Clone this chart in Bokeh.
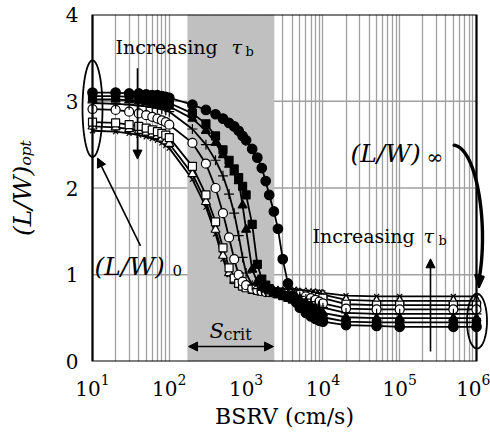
import numpy as np
from math import pi
from bokeh.plotting import figure
from bokeh.models import (Range1d, FixedTicker, LogTickFormatter, Label, Arrow,
                          NormalHead, PolyAnnotation, BoxAnnotation)
from bokeh.embed import file_html
from bokeh.resources import INLINE

FONT = "DejaVu Serif"

# back-surface recombination velocity (cm/s)
bsrv = [10, 20, 30, 40, 50, 60, 70, 80, 90, 100,
        200, 300, 400, 500, 600, 700, 800, 900,
        1000, 1200, 1400, 1600, 1800, 2000, 2300, 2600, 3000, 3500, 4000, 4500,
        5000, 6000, 7000, 8000, 9000, 10000,
        20000, 50000, 100000, 500000, 1000000]

# optimum L/W for increasing bulk lifetime (one list per lifetime)
lw_filled_circle = [3.10, 3.10, 3.09, 3.09, 3.08, 3.07, 3.07, 3.06, 3.05, 3.04,
                    2.96, 2.90, 2.85, 2.80, 2.75, 2.71, 2.66, 2.60,
                    2.55, 2.45, 2.35, 2.23, 2.08, 1.92, 1.73, 1.53, 1.18, 0.90, 0.76, 0.68,
                    0.62, 0.56, 0.52, 0.49, 0.47, 0.46,
                    0.42, 0.41, 0.40, 0.40, 0.40]
lw_filled_square = [3.06, 3.06, 3.05, 3.04, 3.03, 3.02, 3.01, 3.00, 2.99, 2.98,
                    2.86, 2.74, 2.60, 2.44, 2.32, 2.22, 2.12, 2.02,
                    1.92, 1.58, 1.12, 0.95, 0.88, 0.84, 0.80, 0.78, 0.76, 0.74, 0.72, 0.70,
                    0.67, 0.62, 0.58, 0.55, 0.53, 0.51,
                    0.46, 0.45, 0.45, 0.45, 0.45]
lw_filled_triangle = [3.02, 3.02, 3.01, 3.00, 2.99, 2.98, 2.97, 2.96, 2.95, 2.94,
                      2.80, 2.66, 2.52, 2.38, 2.27, 2.18, 2.08, 1.80,
                      1.52, 1.06, 0.92, 0.86, 0.83, 0.81, 0.79, 0.78, 0.77, 0.76, 0.75, 0.74,
                      0.72, 0.68, 0.64, 0.61, 0.58, 0.56,
                      0.51, 0.50, 0.50, 0.50, 0.50]
lw_plus = [2.98, 2.97, 2.96, 2.95, 2.94, 2.93, 2.92, 2.91, 2.90, 2.88,
           2.68, 2.50, 2.32, 2.14, 1.93, 1.71, 1.45, 1.20,
           1.02, 0.88, 0.84, 0.82, 0.81, 0.80, 0.79, 0.79, 0.78, 0.78, 0.77, 0.76,
           0.75, 0.72, 0.69, 0.66, 0.64, 0.62,
           0.56, 0.55, 0.55, 0.55, 0.55]
lw_open_circle = [2.91, 2.90, 2.88, 2.86, 2.84, 2.82, 2.80, 2.78, 2.76, 2.73,
                  2.52, 2.28, 2.00, 1.71, 1.43, 1.18, 1.00, 0.92,
                  0.88, 0.84, 0.82, 0.81, 0.80, 0.80, 0.79, 0.79, 0.78, 0.78, 0.78, 0.77,
                  0.77, 0.75, 0.73, 0.71, 0.69, 0.67,
                  0.61, 0.60, 0.60, 0.60, 0.60]
lw_open_square = [2.76, 2.75, 2.73, 2.71, 2.69, 2.67, 2.65, 2.63, 2.61, 2.58,
                  2.25, 1.92, 1.61, 1.31, 1.08, 0.96, 0.90, 0.87,
                  0.85, 0.83, 0.82, 0.81, 0.81, 0.80, 0.80, 0.80, 0.79, 0.79, 0.79, 0.78,
                  0.78, 0.77, 0.76, 0.75, 0.74, 0.73,
                  0.66, 0.65, 0.65, 0.65, 0.65]
lw_open_triangle = [2.71, 2.70, 2.68, 2.66, 2.64, 2.62, 2.60, 2.57, 2.54, 2.51,
                    2.16, 1.84, 1.52, 1.22, 1.02, 0.93, 0.89, 0.87,
                    0.86, 0.84, 0.83, 0.82, 0.82, 0.81, 0.81, 0.81, 0.80, 0.80, 0.80, 0.80,
                    0.79, 0.79, 0.78, 0.78, 0.77, 0.77,
                    0.71, 0.70, 0.70, 0.70, 0.70]
lw_cross = [2.66, 2.65, 2.63, 2.61, 2.59, 2.57, 2.55, 2.52, 2.49, 2.46,
            2.10, 1.78, 1.47, 1.18, 1.00, 0.92, 0.88, 0.86,
            0.85, 0.84, 0.83, 0.83, 0.82, 0.82, 0.82, 0.82, 0.81, 0.81, 0.81, 0.81,
            0.81, 0.80, 0.80, 0.80, 0.80, 0.79,
            0.76, 0.75, 0.75, 0.75, 0.75]

# critical BSRV window
scrit_low, scrit_high = 172, 2330

decades = [10, 100, 1000, 10000, 100000, 1000000]
y_ticks = [0, 1, 2, 3, 4]
y_grid = [1, 2, 3]

X_LO, X_HI, Y_LO, Y_HI = 10, 1e6, 0, 4
PX_PER_DECADE = 76.8
PAD = 12  # px of free room left/right of the boxed area for the ellipses

p = figure(width=490, height=436, x_axis_type="log",
           x_range=Range1d(10 ** (1 - PAD / PX_PER_DECADE), 10 ** (6 + PAD / PX_PER_DECADE)),
           y_range=Range1d(Y_LO, Y_HI),
           output_backend="svg", toolbar_location=None,
           min_border_left=92 - PAD, min_border_right=14 - PAD,
           min_border_top=14, min_border_bottom=75)
p.background_fill_color = "white"
p.border_fill_color = "white"
p.outline_line_color = None


def dx(px):
    """canvas x pixel -> BSRV"""
    return float(10 ** (1 + (px - 92) / PX_PER_DECADE))


def dy(py):
    """canvas y pixel -> L/W"""
    return float((361 - py) / 87.0)


minor = [m * d for d in decades[:-1] for m in range(2, 10)]
p.xaxis.ticker = FixedTicker(ticks=decades, minor_ticks=minor)
p.xaxis.formatter = LogTickFormatter(min_exponent=0)
p.yaxis.ticker = FixedTicker(ticks=y_ticks)

for ax in (p.xaxis, p.yaxis):
    ax.axis_line_color = None
    ax.major_tick_out = 0
    ax.major_tick_in = 0
    ax.minor_tick_out = 0
    ax.minor_tick_in = 0
    ax.major_label_text_font = FONT
    ax.major_label_text_font_size = "20px"
    ax.major_label_text_color = "black"
p.yaxis.major_label_standoff = 2
p.xaxis.major_label_standoff = 12

p.xaxis.axis_label = "BSRV (cm/s)"
p.xaxis.axis_label_text_font = FONT
p.xaxis.axis_label_text_font_style = "normal"
p.xaxis.axis_label_text_font_size = "22px"
p.xaxis.axis_label_text_color = "black"
p.xaxis.axis_label_standoff = 5

p.yaxis.axis_label = "(L/W)ₒₚₜ"
p.yaxis.axis_label_text_font = FONT
p.yaxis.axis_label_text_font_style = "italic"
p.yaxis.axis_label_text_font_size = "25px"
p.yaxis.axis_label_text_color = "black"
p.yaxis.axis_label_standoff = 26

p.xgrid.grid_line_color = "#a0a0a0"
p.xgrid.minor_grid_line_color = "#a0a0a0"
p.xgrid.grid_line_width = 1.3
p.xgrid.minor_grid_line_width = 1.3
p.ygrid.grid_line_color = None

# horizontal grid restricted to the boxed area
p.segment(x0=[X_LO] * len(y_grid), x1=[X_HI] * len(y_grid), y0=y_grid, y1=y_grid,
          line_color="#a0a0a0", line_width=1.3)

# shaded S_crit window
p.quad(left=[scrit_low], right=[scrit_high], bottom=[Y_LO], top=[Y_HI],
       fill_color="#c0c0c0", line_color=None)

styles = [
    (lw_cross, "x", "black", 7),
    (lw_open_triangle, "triangle", "white", 9),
    (lw_open_square, "square", "white", 8),
    (lw_open_circle, "circle", "white", 9),
    (lw_plus, "cross", "black", 10),
    (lw_filled_triangle, "triangle", "black", 9),
    (lw_filled_square, "square", "black", 8),
    (lw_filled_circle, "circle", "black", 9.5),
]
for ys, marker, fill, size in styles:
    p.line(bsrv, ys, line_color="black", line_width=1.8)
for ys, marker, fill, size in styles:
    p.scatter(bsrv, ys, marker=marker, size=size, fill_color=fill,
              line_color="black", line_width=1.2)

# plot box
p.add_layout(BoxAnnotation(left=X_LO, right=X_HI, bottom=Y_LO, top=Y_HI,
                           fill_alpha=0, line_color="black", line_alpha=1.0,
                           line_width=2.2))


def label(px, py, text, size, style="normal", angle=0.0):
    p.add_layout(Label(x=dx(px), y=dy(py), text=text,
                       text_font=FONT, text_font_size=size, text_font_style=style,
                       text_color="black", text_align="left",
                       text_baseline="alphabetic", angle=angle))


def arrow(x0, y0, x1, y1, both=False, width=1.6):
    head = dict(size=9, fill_color="black", line_color="black", line_width=1)
    p.add_layout(Arrow(x_start=dx(x0), y_start=dy(y0), x_end=dx(x1), y_end=dy(y1),
                       start=NormalHead(**head) if both else None,
                       end=NormalHead(**head), line_color="black", line_width=width))


def outline(xs, ys, fill=None):
    p.add_layout(PolyAnnotation(xs=[dx(v) for v in xs], ys=[dy(v) for v in ys],
                                fill_color=fill or "white", fill_alpha=1.0 if fill else 0.0,
                                line_color="black", line_alpha=1.0, line_width=1.8))


t = np.linspace(0, 2 * pi, 73)
outline(92 + 10 * np.cos(t), 107.5 + 48.5 * np.sin(t))
outline(476.5 + 10 * np.cos(t), 320.5 + 27.5 * np.sin(t))

# curved pointer from the (L/W)_inf text down to the right ellipse,
# drawn as a thin filled crescent plus a triangular head
s = np.linspace(0, 1, 40)
cx = (1 - s) ** 3 * 453 + 3 * (1 - s) ** 2 * s * 476 + 3 * (1 - s) * s ** 2 * 488 + s ** 3 * 479
cy = (1 - s) ** 3 * 144 + 3 * (1 - s) ** 2 * s * 146 + 3 * (1 - s) * s ** 2 * 222 + s ** 3 * 276
gx, gy = np.gradient(cx), np.gradient(cy)
norm = np.hypot(gx, gy)
nx, ny = -gy / norm * 0.8, gx / norm * 0.8
outline(np.concatenate([cx + nx, (cx - nx)[::-1]]),
        np.concatenate([cy + ny, (cy - ny)[::-1]]), fill="black")
outline([474.5, 483.5, 478.5], [274, 276, 287], fill="black")

# upper-left annotation
label(115, 46, "Increasing ", "19px")
label(231, 46, "τ", "19px", "italic")
label(245, 50, "b", "13px")
arrow(137, 67, 137, 158)

# (L/W)_0
label(94, 266, "(L/W)", "25px", "italic")
label(172, 270, "0", "15px")
arrow(140, 245, 97, 157)

# (L/W)_inf
label(350, 152, "(L/W)", "25px", "italic")
label(426, 156, "∞", "20px")

# lower-right annotation
label(312, 235, "Increasing ", "19px")
label(423, 235, "τ", "19px", "italic")
label(438, 240, "b", "13px")
arrow(430, 351, 430, 258)

# S_crit
label(209, 330, "S", "21px", "italic")
label(223, 334, "crit", "16px")
arrow(188, 346, 273, 346, both=True)

open("out.html", "w").write(file_html(p, INLINE))
